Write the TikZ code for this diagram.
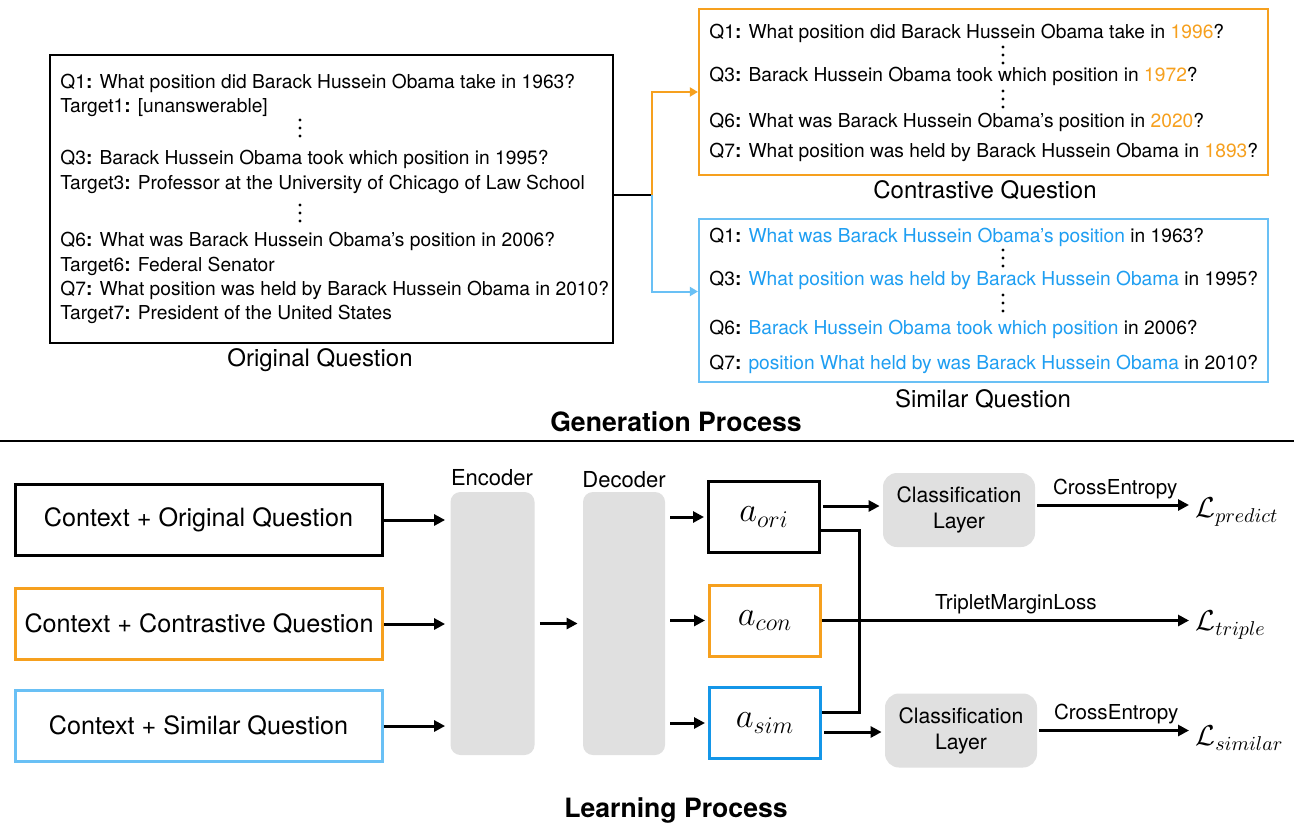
\documentclass[tikz,border=0pt]{standalone}
\usepackage{amsmath,amssymb}
\usepackage{fontspec}
\setmainfont{TeX Gyre Heros}
\usetikzlibrary{arrows.meta}

\definecolor{qorange}{RGB}{246,160,30}
\definecolor{qblue}{RGB}{105,192,245}
\definecolor{qbluetxt}{RGB}{30,158,242}
\definecolor{qbluedark}{RGB}{20,150,232}
\definecolor{blockgray}{RGB}{224,224,224}

\newcommand{\qlab}[1]{#1\textbf{:}}
\newcommand{\ctxt}[1]{\textcolor{qorange}{#1}}
\newcommand{\stxt}[1]{\textcolor{qbluetxt}{#1}}

\begin{document}
\begin{tikzpicture}[x=0.5pt,y=-0.5pt,
    qline/.style={anchor=west,inner sep=0pt,font=\fontsize{9.6}{11}\selectfont},
    qcaption/.style={font=\fontsize{12}{14}\selectfont},
    ptitle/.style={font=\fontsize{13.3}{15}\selectfont\bfseries},
    qbox/.style={draw,line width=1.1pt},
    inbox/.style={draw,line width=1.5pt,minimum width=183.5pt,minimum height=35.5pt,font=\fontsize{12.6}{14}\selectfont},
    block/.style={fill=blockgray,rounded corners=5pt,minimum width=42pt,minimum height=131.5pt},
    vecbox/.style={draw,line width=1.5pt,minimum width=55.5pt,minimum height=35.5pt,font=\fontsize{17}{19}\selectfont},
    clsbox/.style={fill=blockgray,rounded corners=7pt,minimum width=76pt,minimum height=37pt,align=center,font=\fontsize{10.6}{13}\selectfont},
    lossnode/.style={anchor=west,inner sep=0pt,font=\fontsize{14.4}{16}\selectfont},
    arr/.style={line width=1.5pt,-{Triangle[length=5.5pt,width=5.5pt]}},
    thinarr/.style={line width=1pt,-{Triangle[length=4pt,width=4.5pt]}},
    lbl/.style={font=\fontsize{10.3}{12}\selectfont,inner sep=1pt}
]
    \useasboundingbox[fill=white] (0,0) rectangle (1294,825);

    % ---- Generation process ----
    % original questions
    \node[qbox,minimum width=281.5pt,minimum height=144pt] (orig) at (331.5,199) {};
    \foreach \yy/\txt [count=\i] in {
        83/{\qlab{Q1} What position did Barack Hussein Obama take in 1963?},
        108/{\qlab{Target1} [unanswerable]},
        159/{\qlab{Q3} Barack Hussein Obama took which position in 1995?},
        184/{\qlab{Target3} Professor at the University of Chicago of Law School},
        241/{\qlab{Q6} What was Barack Hussein Obama's position in 2006?},
        266/{\qlab{Target6} Federal Senator},
        290/{\qlab{Q7} What position was held by Barack Hussein Obama in 2010?},
        314/{\qlab{Target7} President of the United States}}
        \node[qline] (orig-\i) at (60,\yy) {\txt};
    \node[qcaption] (orig-cap) at (320,360) {Original Question};

    % contrastive questions
    \node[qbox,draw=qorange,minimum width=284.5pt,minimum height=83pt] (cont) at (983.5,92) {};
    \foreach \yy/\txt [count=\i] in {
        33/{\qlab{Q1} What position did Barack Hussein Obama take in \ctxt{1996}?},
        76/{\qlab{Q3} Barack Hussein Obama took which position in \ctxt{1972}?},
        122/{\qlab{Q6} What was Barack Hussein Obama's position in \ctxt{2020}?},
        152/{\qlab{Q7} What position was held by Barack Hussein Obama in \ctxt{1893}?}}
        \node[qline] (cont-\i) at (709,\yy) {\txt};
    \node[qcaption] (cont-cap) at (985,190) {Contrastive Question};

    % similar questions
    \node[qbox,draw=qblue,minimum width=284.5pt,minimum height=81.5pt] (simq) at (983.5,300.5) {};
    \foreach \yy/\txt [count=\i] in {
        237/{\qlab{Q1} \stxt{What was Barack Hussein Obama's position} in 1963?},
        280/{\qlab{Q3} \stxt{What position was held by Barack Hussein Obama} in 1995?},
        329/{\qlab{Q6} \stxt{Barack Hussein Obama took which position} in 2006?},
        364/{\qlab{Q7} \stxt{position What held by was Barack Hussein Obama} in 2010?}}
        \node[qline] (simq-\i) at (709,\yy) {\txt};
    \node[qcaption] (simq-cap) at (983,399) {Similar Question};

    % vertical ellipses between the questions
    \foreach \xx/\yy in {300/128, 300/213, 1003/55, 1003/99, 1003/258, 1003/303}
        \foreach \dy in {-8,0,8}
            \fill (\xx,\yy+\dy) circle[radius=1.7];

    % split connector
    \coordinate (split) at (652,195);
    \draw[line width=1pt] ([yshift=2pt]orig.east) -- (split);
    \draw[thinarr,qorange] (split) |- (cont.west);
    \draw[thinarr,qblue] (split) |- ([yshift=4.5pt]simq.west);

    \node[ptitle] (gen-title) at (676,422) {Generation Process};
    \draw[line width=1pt] (0,441) -- (1294,441);

    % ---- Learning process ----
    \node[inbox] (in1) at (198.5,520) {Context + Original Question};
    \node[inbox,draw=qorange] (in2) at (199,624) {Context + Contrastive Question};
    \node[inbox,draw=qblue] (in3) at (198.5,726) {Context + Similar Question};

    \node[block] (enc) at (492.5,623.5) {};
    \node[block,minimum width=41pt] (dec) at (624,623.5) {};
    \node[lbl,font=\fontsize{11}{13}\selectfont] (enc-lbl) at (492,478) {Encoder};
    \node[lbl,font=\fontsize{11}{13}\selectfont] (dec-lbl) at (624,480) {Decoder};

    \node[vecbox] (ori) at (764,517) {$a_{ori}$};
    \node[vecbox,draw=qorange] (con) at (765,620.5) {$a_{con}$};
    \node[vecbox,draw=qbluedark] (sim) at (765,723) {$a_{sim}$};

    \node[clsbox] (cls1) at (959,510) {Classification\\Layer};
    \node[clsbox] (cls2) at (961,730.5) {Classification\\Layer};

    \node[lossnode] (lpred) at (1195,512) {$\mathcal{L}_{predict}$};
    \node[lossnode] (ltrip) at (1195,625) {$\mathcal{L}_{triple}$};
    \node[lossnode] (lsim) at (1195,738) {$\mathcal{L}_{similar}$};

    % inputs into encoder, encoder into decoder
    \foreach \n in {in1,in2,in3}
        \draw[arr,shorten >=2.5pt] (\n.east) -- (enc.west |- \n.east);
    \draw[arr,shorten <=2.5pt,shorten >=2.5pt] (enc.east) -- (dec.west);
    \foreach \n in {ori,con,sim}
        \draw[arr,shorten <=2.5pt,shorten >=1.5pt] (dec.east |- \n.west) -- (\n.west);

    % heads
    \coordinate (ori-out) at ([yshift=5.5pt]ori.east);
    \coordinate (ori-low) at ([yshift=-6.5pt]ori.east);
    \coordinate (sim-up) at ([yshift=5.5pt]sim.east);
    \coordinate (sim-out) at ([yshift=-4.5pt]sim.east);
    \coordinate (cls1-out) at ([yshift=2.5pt]cls1.east);
    \draw[arr,shorten <=1pt,shorten >=1.5pt] (ori-out) -- (cls1.west |- ori-out);
    \draw[arr,shorten <=1pt,shorten >=1.5pt] (sim-out) -- (cls2.west |- sim-out);
    \draw[line width=1.5pt] (ori-low) -- ++(38,0) |- (sim-up);
    \draw[arr,shorten >=3pt] (con.east) -- (ltrip.west |- con.east)
        node[lbl,pos=0.52,above=1.5pt] (trip-lbl) {TripletMarginLoss};
    \draw[arr,shorten <=1pt,shorten >=3pt] (cls1-out) -- (lpred.west |- cls1-out)
        node[lbl,midway,above=1.5pt] (ce1-lbl) {CrossEntropy};
    \draw[arr,shorten <=1pt,shorten >=3pt] (cls2.east) -- (lsim.west |- cls2.east)
        node[lbl,midway,above=1.5pt] (ce2-lbl) {CrossEntropy};

    \node[ptitle] (learn-title) at (676,810) {Learning Process};
\end{tikzpicture}
\end{document}
